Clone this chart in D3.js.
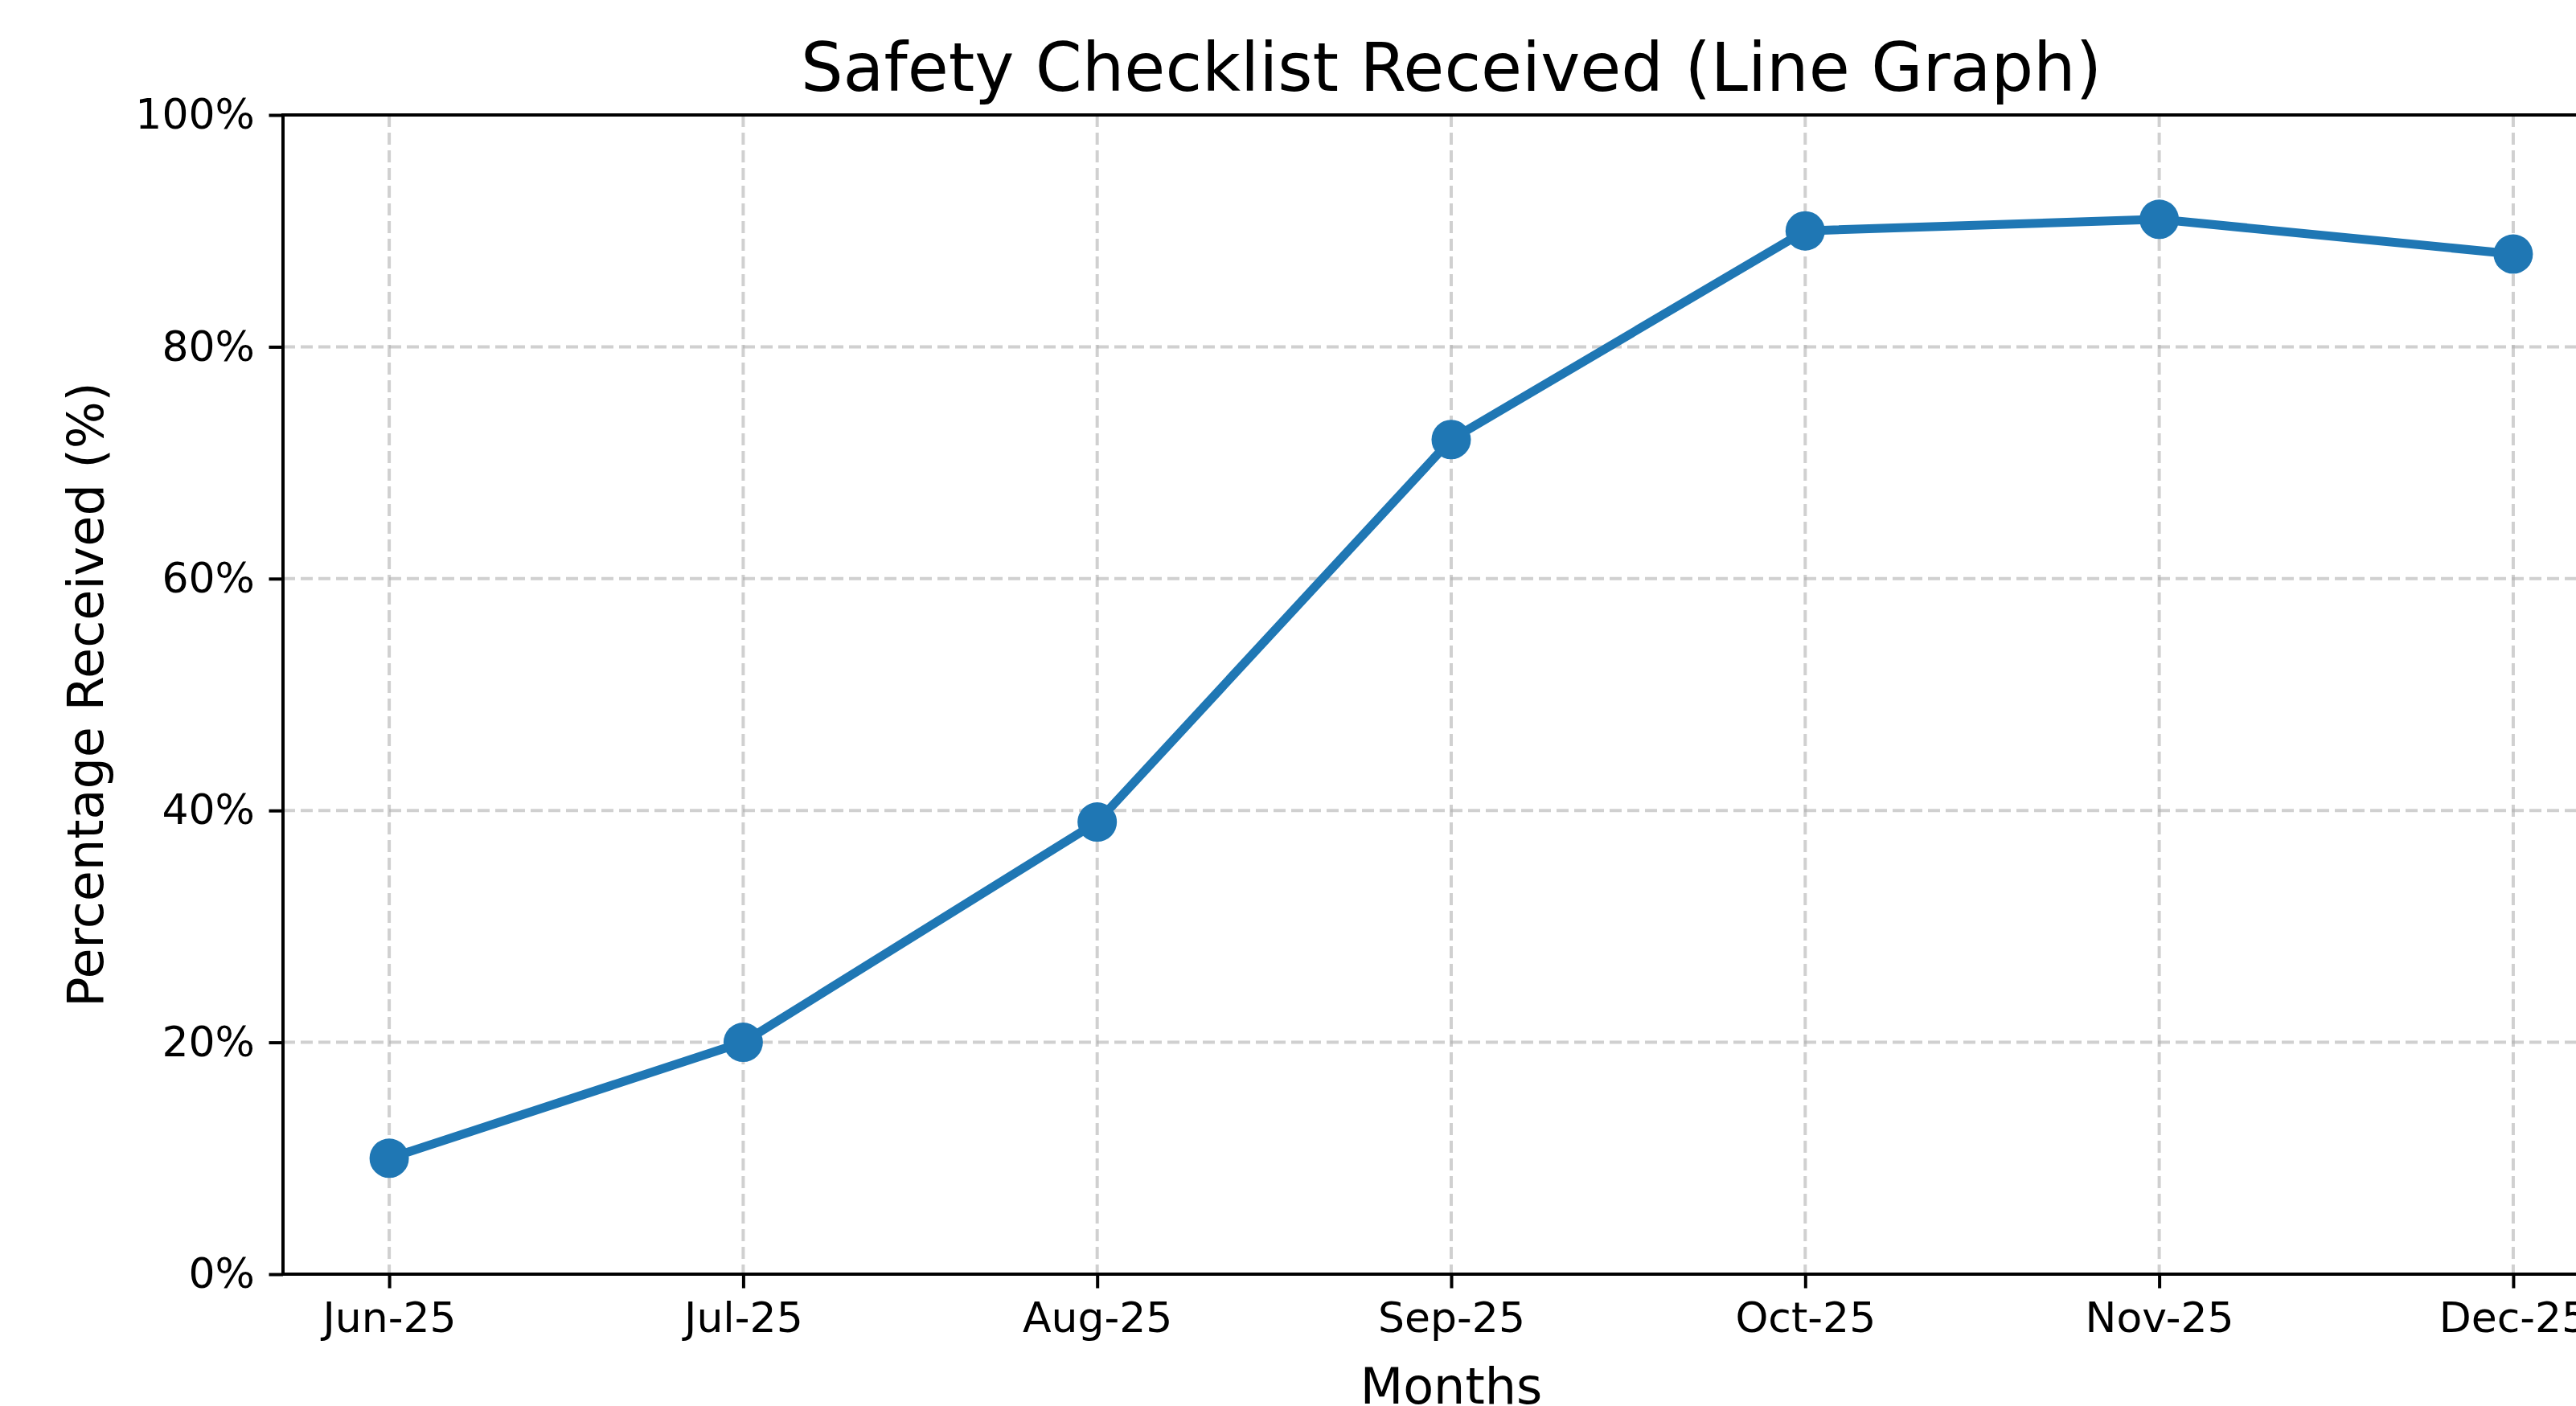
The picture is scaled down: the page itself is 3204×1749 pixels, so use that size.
<!DOCTYPE html>
<html>
<head>
<meta charset="utf-8">
<script src="https://cdn.jsdelivr.net/npm/d3@7"></script>
<style>
    body { margin: 0; background: #fff; overflow: hidden; }
    text { font-family: "DejaVu Sans", sans-serif; fill: #000; }
</style>
</head>
<body>
<script>

const months = ["Jun-25", "Jul-25", "Aug-25", "Sep-25", "Oct-25", "Nov-25", "Dec-25"];
const received = [10, 20, 39, 72, 90, 91, 88];
const yTicks = [0, 20, 40, 60, 80, 100];

const width = 3204, height = 1749;

// plot area (right edge runs past the picture, like the source)
const plotLeft = 352, plotRight = 3258, plotTop = 143, plotBottom = 1585;

const svg = d3.select('body')
    .append('svg')
    .attr("width", width)
    .attr("height", height);

const x = d3.scaleLinear()
    .domain([-0.3, months.length - 1 + 0.3])
    .range([plotLeft, plotRight]);

const y = d3.scaleLinear()
    .domain([0, 100])
    .range([plotBottom, plotTop]);

// grid
const grid_g = svg.append('g');

grid_g.selectAll('.vgrid')
    .data(months.map((d, i) => i))
    .enter().append('line')
    .attr('class', 'vgrid')
    .attr('x1', d => x(d)).attr('x2', d => x(d))
    .attr('y1', plotTop).attr('y2', plotBottom);

grid_g.selectAll('.hgrid')
    .data(yTicks)
    .enter().append('line')
    .attr('class', 'hgrid')
    .attr('x1', plotLeft).attr('x2', plotRight)
    .attr('y1', d => y(d)).attr('y2', d => y(d));

grid_g.selectAll('line')
    .attr('stroke', '#b0b0b0')
    .attr('stroke-opacity', 0.6)
    .attr('stroke-width', 4)
    .attr('stroke-dasharray', '15,7');

// axes
const xAxis = d3.axisBottom(x)
    .tickValues(months.map((d, i) => i))
    .tickFormat(i => months[i])
    .tickSize(17.5)
    .tickPadding(17.5);

const yAxis = d3.axisLeft(y)
    .tickValues(yTicks)
    .tickFormat(d => d + '%')
    .tickSize(17.5)
    .tickPadding(17.5);

const xg = svg.append('g')
    .attr('transform', `translate(0,${plotBottom})`)
    .call(xAxis);

const yg = svg.append('g')
    .attr('transform', `translate(${plotLeft},0)`)
    .call(yAxis);

[xg, yg].forEach(g => {
    g.select('.domain').remove();
    g.selectAll('.tick line').attr('stroke', '#000').attr('stroke-width', 4);
    g.selectAll('.tick text')
        .attr('fill', '#111')
        .style('font-size', '52px')
        .style('font-family', '"DejaVu Sans", sans-serif');
});

// spines
svg.append('rect')
    .attr('x', plotLeft).attr('y', plotTop)
    .attr('width', plotRight - plotLeft).attr('height', plotBottom - plotTop)
    .attr('fill', 'none')
    .attr('stroke', '#000')
    .attr('stroke-width', 4);

// line + markers
const line = d3.line()
    .x((d, i) => x(i))
    .y(d => y(d));

svg.append('path')
    .datum(received)
    .attr('d', line)
    .attr('fill', 'none')
    .attr('stroke', '#1f77b4')
    .attr('stroke-width', 11)
    .attr('stroke-linejoin', 'round');

svg.selectAll('.dot')
    .data(received)
    .enter().append('circle')
    .attr('class', 'dot')
    .attr('cx', (d, i) => x(i))
    .attr('cy', d => y(d))
    .attr('r', 24.5)
    .attr('fill', '#1f77b4');

// labels
svg.append('text')
    .attr('x', (plotLeft + plotRight) / 2)
    .attr('y', 113)
    .attr('text-anchor', 'middle')
    .style('font-size', '83px')
    .text('Safety Checklist Received (Line Graph)');

svg.append('text')
    .attr('x', (plotLeft + plotRight) / 2)
    .attr('y', 1746)
    .attr('text-anchor', 'middle')
    .style('font-size', '62px')
    .text('Months');

svg.append('text')
    .attr('transform', `translate(128,${(plotTop + plotBottom) / 2}) rotate(-90)`)
    .attr('text-anchor', 'middle')
    .style('font-size', '62px')
    .text('Percentage Received (%)');

</script>
</body>
</html>
